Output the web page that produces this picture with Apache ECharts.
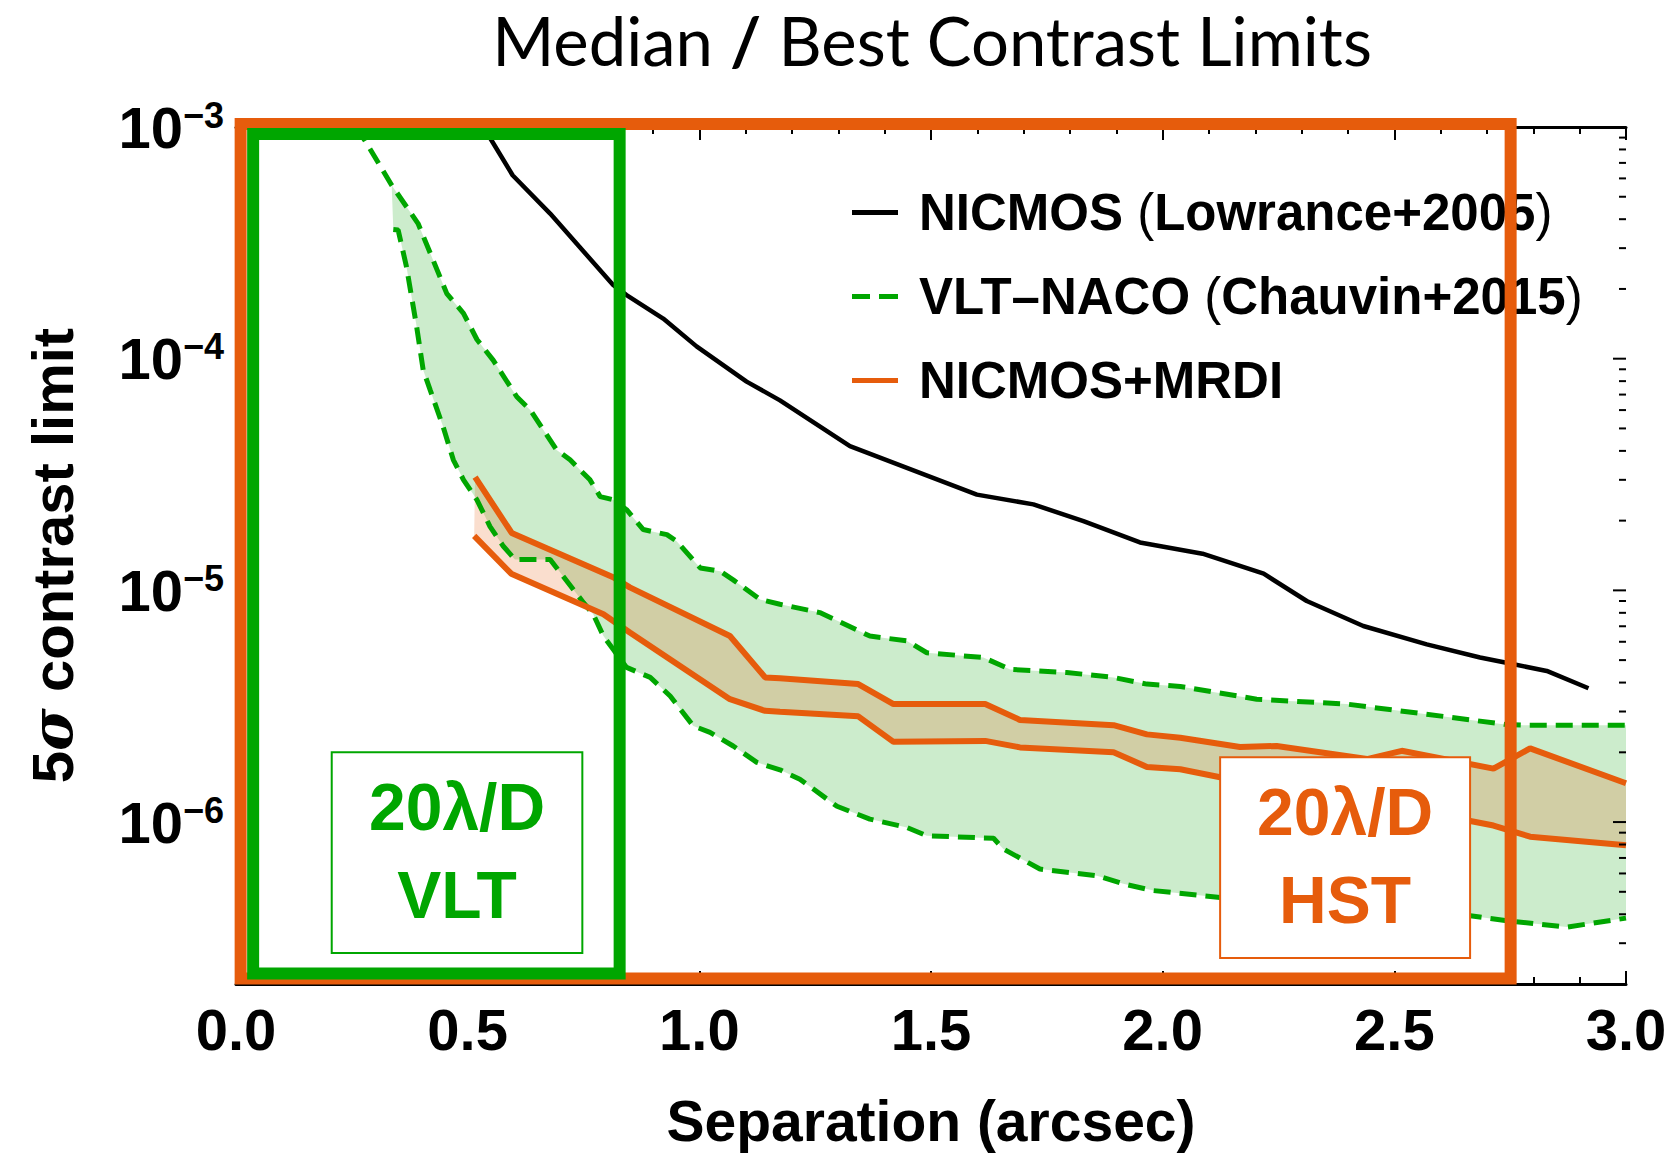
<!DOCTYPE html>
<html>
<head>
<meta charset="utf-8">
<script src="https://cdn.jsdelivr.net/npm/echarts@6/dist/echarts.min.js"></script>
<style>html,body{margin:0;padding:0;background:#fff}#c{width:1674px;height:1154px}</style>
</head>
<body>
<div id="c"></div>
<script>
// ---------------- data ----------------
const seriesNames = ['NICMOS (Lowrance+2005)', 'VLT\u2013NACO (Chauvin+2015)', 'NICMOS+MRDI'];

const nicmosSep = [0.534, 0.597, 0.678, 0.814, 0.843, 0.922, 0.994, 1.102, 1.174, 1.325, 1.599, 1.721, 1.829, 1.951, 2.086, 2.218, 2.311, 2.433, 2.570, 2.685, 2.739, 2.829, 2.919];
const nicmosContrast = [1.00e-3, 6.19e-4, 4.23e-4, 2.08e-4, 1.88e-4, 1.49e-4, 1.13e-4, 7.96e-5, 6.61e-5, 4.19e-5, 2.59e-5, 2.35e-5, 1.99e-5, 1.61e-5, 1.44e-5, 1.18e-5, 9.00e-6, 7.02e-6, 5.85e-6, 5.13e-6, 4.88e-6, 4.49e-6, 3.78e-6];

const vltUpperSep = [0.258, 0.278, 0.336, 0.393, 0.455, 0.491, 0.520, 0.555, 0.606, 0.635, 0.692, 0.721, 0.764, 0.786, 0.814, 0.843, 0.879, 0.930, 0.951, 1.002, 1.045, 1.073, 1.131, 1.174, 1.260, 1.368, 1.448, 1.491, 1.613, 1.671, 1.793, 1.894, 1.966, 2.038, 2.203, 2.397, 2.541, 2.739, 2.779, 3.000];
const vltUpperContrast = [1.00e-3, 8.77e-4, 5.61e-4, 3.83e-4, 1.91e-4, 1.57e-4, 1.21e-4, 9.86e-5, 6.85e-5, 6.01e-5, 4.04e-5, 3.66e-5, 3.00e-5, 2.54e-5, 2.46e-5, 2.23e-5, 1.83e-5, 1.74e-5, 1.63e-5, 1.25e-5, 1.21e-5, 1.11e-5, 9.14e-6, 8.71e-6, 8.02e-6, 6.35e-6, 6.05e-6, 5.38e-6, 5.13e-6, 4.56e-6, 4.42e-6, 4.21e-6, 3.94e-6, 3.85e-6, 3.39e-6, 3.23e-6, 2.97e-6, 2.64e-6, 2.62e-6, 2.62e-6];

const vltLowerSep = [0.3395, 0.350, 0.368, 0.390, 0.404, 0.419, 0.447, 0.469, 0.491, 0.520, 0.548, 0.577, 0.602, 0.678, 0.706, 0.750, 0.771, 0.793, 0.814, 0.843, 0.894, 0.937, 0.987, 1.023, 1.073, 1.124, 1.174, 1.217, 1.297, 1.368, 1.448, 1.491, 1.635, 1.656, 1.735, 1.858, 1.915, 1.980, 2.124, 2.404, 2.664, 2.739, 2.872, 3.000];
const vltLowerContrast = [3.61e-4, 3.59e-4, 2.49e-4, 1.37e-4, 8.93e-5, 7.33e-5, 5.09e-5, 3.66e-5, 3.00e-5, 2.46e-5, 1.89e-5, 1.55e-5, 1.36e-5, 1.36e-5, 1.15e-5, 8.85e-6, 7.89e-6, 6.35e-6, 5.57e-6, 4.65e-6, 4.21e-6, 3.50e-6, 2.60e-6, 2.44e-6, 2.13e-6, 1.81e-6, 1.68e-6, 1.53e-6, 1.17e-6, 1.03e-6, 9.48e-7, 8.73e-7, 8.51e-7, 7.66e-7, 6.27e-7, 5.87e-7, 5.41e-7, 5.06e-7, 4.73e-7, 4.22e-7, 3.94e-7, 3.76e-7, 3.52e-7, 3.85e-7];

const mrdiUpperSep = [0.516, 0.595, 0.814, 0.850, 1.066, 1.142, 1.174, 1.343, 1.419, 1.617, 1.692, 1.894, 1.966, 2.038, 2.167, 2.246, 2.441, 2.516, 2.714, 2.793, 3.000];
const mrdiUpperContrast = [3.08e-5, 1.77e-5, 1.14e-5, 1.03e-5, 6.35e-6, 4.21e-6, 4.18e-6, 3.94e-6, 3.23e-6, 3.23e-6, 2.76e-6, 2.62e-6, 2.39e-6, 2.31e-6, 2.11e-6, 2.13e-6, 1.87e-6, 2.03e-6, 1.70e-6, 2.08e-6, 1.47e-6];

const mrdiLowerSep = [0.514, 0.594, 0.793, 0.850, 1.066, 1.142, 1.174, 1.343, 1.419, 1.617, 1.692, 1.894, 1.966, 2.038, 2.124, 2.664, 2.714, 2.793, 3.000];
const mrdiLowerContrast = [1.72e-5, 1.18e-5, 7.89e-6, 6.58e-6, 3.39e-6, 3.02e-6, 2.99e-6, 2.86e-6, 2.22e-6, 2.24e-6, 2.10e-6, 2.00e-6, 1.73e-6, 1.69e-6, 1.56e-6, 1.01e-6, 9.66e-7, 8.65e-7, 7.94e-7];

const xTicks = [0.0, 0.5, 1.0, 1.5, 2.0, 2.5, 3.0];
const yDecades = [-6, -5, -4, -3];

// annotation regions, in data units: [sepLeft, contrastTop, sepRight, contrastBottom]
const hstRegion = [0.01, 1.03e-3, 2.751, 2.11e-7];
const vltRegion = [0.037, 9.33e-4, 0.828, 2.22e-7];
const vltLabelRegion = [0.2066, 2.0e-6, 0.7475, 2.72e-7];
const hstLabelRegion = [2.124, 1.906e-6, 2.6635, 2.59e-7];
const vltLabelLines = ['20\u03bb/D', 'VLT'];
const hstLabelLines = ['20\u03bb/D', 'HST'];

// ---------------- styling ----------------
const F = "'Liberation Sans', Arial, Helvetica, sans-serif";
const ORANGE = '#E65C0C';
const GREEN = '#00A600';
const X_MIN = 0, X_MAX = 3, Y_MIN = 2e-7, Y_MAX = 1e-3;

const zip = (xs, ys) => xs.map((x, i) => [x, ys[i]]);
const nicmosData = zip(nicmosSep, nicmosContrast);
const vltUpper = zip(vltUpperSep, vltUpperContrast);
const vltLower = zip(vltLowerSep, vltLowerContrast);
const mrdiUpper = zip(mrdiUpperSep, mrdiUpperContrast);
const mrdiLower = zip(mrdiLowerSep, mrdiLowerContrast);

// right-axis log ticks: majors at 10^n, minors at 2..9 x 10^n
const rightTicks = [];
for (let e = -7; e <= -3; e++) {
  for (let m = 1; m <= 9; m++) {
    const v = m * Math.pow(10, e);
    if (v > Y_MIN * 1.001 && v < Y_MAX * 0.999) rightTicks.push([X_MAX, v, m === 1 ? 1 : 0]);
  }
}

function bandRender(upper, lower, fill) {
  return function (params, api) {
    if (params.dataIndex !== 0) return;
    const pts = [];
    upper.forEach(p => pts.push(api.coord(p)));
    for (let i = lower.length - 1; i >= 0; i--) pts.push(api.coord(lower[i]));
    return { type: 'polygon', shape: { points: pts }, style: { fill: fill } };
  };
}

function frameRender(color) {
  return function (params, api) {
    const p0 = api.coord([api.value(0), api.value(1)]);
    const p1 = api.coord([api.value(2), api.value(3)]);
    return {
      type: 'rect',
      shape: { x: p0[0], y: p0[1], width: p1[0] - p0[0], height: p1[1] - p0[1] },
      style: { fill: 'none', stroke: color, lineWidth: 12 }
    };
  };
}

function labelRender(color, lines) {
  return function (params, api) {
    const p0 = api.coord([api.value(0), api.value(1)]);
    const p1 = api.coord([api.value(2), api.value(3)]);
    const cx = (p0[0] + p1[0]) / 2;
    return {
      type: 'group',
      children: [
        { type: 'rect', shape: { x: p0[0], y: p0[1], width: p1[0] - p0[0], height: p1[1] - p0[1] },
          style: { fill: '#fff', stroke: color, lineWidth: 2 } },
        { type: 'text', style: { text: lines[0], x: cx, y: p0[1] + 55, fill: color,
          fontSize: 66, fontWeight: 'bold', fontFamily: F, align: 'center', verticalAlign: 'middle' } },
        { type: 'text', style: { text: lines[1], x: cx, y: p0[1] + 143, fill: color,
          fontSize: 66, fontWeight: 'bold', fontFamily: F, align: 'center', verticalAlign: 'middle' } }
      ]
    };
  };
}

function decadeLabel(v) {
  const lg = Math.log10(v);
  const e = Math.round(lg);
  if (Math.abs(lg - e) > 0.01 || yDecades.indexOf(e) < 0) return '';
  return '{b|10}{s|\u2212' + (-e) + '}';
}

const axisLineStyle = { color: '#000', width: 3 };

const option = {
  animation: false,
  backgroundColor: '#fff',
  grid: { left: 236, right: 48, top: 127, bottom: 169, containLabel: false },
  graphic: [{
    type: 'text', x: 932, y: 40, z: 20,
    style: {
      text: '{a|Median }{b|/}{a| Best Contrast Limits}',
      align: 'center', verticalAlign: 'middle',
      rich: {
        a: { fontSize: 67, fontFamily: "Lato, 'Open Sans', sans-serif", fontWeight: 'normal', fill: '#000' },
        b: { fontSize: 67, fontFamily: "Lato, 'Open Sans', sans-serif", fontWeight: 'bold', fill: '#000' }
      }
    }
  }],
  legend: {
    orient: 'vertical', left: 847, top: 182,
    itemWidth: 46, itemHeight: 5, itemGap: 33,
    selectedMode: false,
    data: [
      { name: seriesNames[0], icon: 'rect' },
      { name: seriesNames[1], icon: 'path://M0,0h18v5h-18zM27,0h19v5h-19z' },
      { name: seriesNames[2], icon: 'rect' }
    ],
    formatter: function (name) {
      const m = name.match(/^(.*?) \((.*)\)$/);
      if (m) return '{t|' + m[1] + ' }{p|(}{t|' + m[2] + '}{p|)}';
      return '{t|' + name + '}';
    },
    textStyle: {
      padding: [0, 0, 0, 16],
      lineHeight: 50,
      rich: {
        t: { fontSize: 51, fontWeight: 'bold', fontFamily: F, color: '#000', lineHeight: 50 },
        p: { fontSize: 51, fontWeight: 'normal', fontFamily: F, color: '#000', lineHeight: 50 }
      }
    }
  },
  xAxis: [{
    type: 'value', min: X_MIN, max: X_MAX, interval: 0.5, position: 'bottom',
    name: 'Separation (arcsec)', nameLocation: 'middle', nameGap: 108,
    nameTextStyle: { fontSize: 57, fontWeight: 'bold', fontFamily: F, color: '#000' },
    axisLine: { show: true, lineStyle: axisLineStyle },
    axisTick: { show: true, inside: true, length: 13, lineStyle: { color: '#000', width: 2 } },
    minorTick: { show: true, splitNumber: 5, length: 7, lineStyle: { color: '#000', width: 2 } },
    splitLine: { show: false },
    axisLabel: {
      margin: 16, fontSize: 58, fontWeight: 'bold', fontFamily: F, color: '#000',
      formatter: v => (xTicks.some(t => Math.abs(t - v) < 1e-6) ? v.toFixed(1) : '')
    }
  }, {
    type: 'value', min: X_MIN, max: X_MAX, interval: 0.5, position: 'top',
    axisLine: { show: true, lineStyle: axisLineStyle },
    axisTick: { show: true, inside: true, length: 13, lineStyle: { color: '#000', width: 2 } },
    minorTick: { show: true, splitNumber: 5, length: 7, lineStyle: { color: '#000', width: 2 } },
    splitLine: { show: false },
    axisLabel: { show: false }
  }],
  yAxis: [{
    type: 'log', logBase: 10, min: Y_MIN, max: Y_MAX, position: 'left',
    name: '{n|5}{i|\u03c3}{n| contrast limit}', nameLocation: 'middle', nameGap: 155,
    nameTextStyle: {
      rich: {
        n: { fontSize: 58, fontWeight: 'bold', fontFamily: F, color: '#000' },
        i: { fontSize: 58, fontWeight: 'bold', fontStyle: 'italic', fontFamily: "'DejaVu Serif', serif", color: '#000' }
      }
    },
    axisLine: { show: false },
    axisTick: { show: false },
    minorTick: { show: false },
    splitLine: { show: false },
    axisLabel: {
      margin: 12, showMinLabel: true, formatter: decadeLabel,
      rich: {
        b: { fontSize: 58, fontWeight: 'bold', fontFamily: F, color: '#000', lineHeight: 60 },
        s: { fontSize: 36, fontWeight: 'bold', fontFamily: F, color: '#000', verticalAlign: 'top', lineHeight: 30 }
      }
    }
  }, {
    type: 'log', logBase: 10, min: Y_MIN, max: Y_MAX, position: 'right',
    axisLine: { show: true, lineStyle: axisLineStyle },
    axisTick: { show: false },
    minorTick: { show: false },
    splitLine: { show: false },
    axisLabel: { show: false }
  }],
  series: [
    { type: 'custom', name: 'vltBand', silent: true, z: 1, data: vltUpper,
      renderItem: bandRender(vltUpper.filter(p => p[0] >= vltLowerSep[0] - 0.01), vltLower, 'rgba(0,160,0,0.2)') },
    { type: 'custom', name: 'mrdiBand', silent: true, z: 1, data: mrdiUpper,
      renderItem: bandRender(mrdiUpper, mrdiLower, 'rgba(232,92,12,0.2)') },
    { type: 'line', name: seriesNames[0], data: nicmosData, symbol: 'none', showSymbol: false, z: 3,
      color: '#000', lineStyle: { color: '#000', width: 4.5 } },
    { type: 'line', name: seriesNames[1], data: vltUpper, symbol: 'none', showSymbol: false, z: 3,
      color: GREEN, lineStyle: { color: GREEN, width: 5, type: [17, 9] } },
    { type: 'line', name: seriesNames[1], data: vltLower, symbol: 'none', showSymbol: false, z: 3,
      color: GREEN, lineStyle: { color: GREEN, width: 5, type: [17, 9] } },
    { type: 'line', name: seriesNames[2], data: mrdiUpper, symbol: 'none', showSymbol: false, z: 4,
      color: ORANGE, lineStyle: { color: ORANGE, width: 6 } },
    { type: 'line', name: seriesNames[2], data: mrdiLower, symbol: 'none', showSymbol: false, z: 4,
      color: ORANGE, lineStyle: { color: ORANGE, width: 6 } },
    { type: 'custom', name: 'rightTicks', silent: true, z: 5, clip: false,
      data: rightTicks,
      renderItem: function (params, api) {
        const pr = api.coord([api.value(0), api.value(1)]);
        const len = api.value(2) ? 13 : 7;
        return { type: 'line', shape: { x1: pr[0] - len, y1: pr[1], x2: pr[0], y2: pr[1] }, style: { stroke: '#000', lineWidth: 2 } };
      } },
    { type: 'custom', name: 'vltLabel', silent: true, z: 8, clip: false, data: [vltLabelRegion],
      encode: { x: [0, 2], y: [1, 3] }, renderItem: labelRender(GREEN, vltLabelLines) },
    { type: 'custom', name: 'hstLabel', silent: true, z: 8, clip: false, data: [hstLabelRegion],
      encode: { x: [0, 2], y: [1, 3] }, renderItem: labelRender(ORANGE, hstLabelLines) },
    { type: 'custom', name: 'hstRegion', silent: true, z: 10, clip: false, data: [hstRegion],
      encode: { x: [0, 2], y: [1, 3] }, renderItem: frameRender(ORANGE) },
    { type: 'custom', name: 'vltRegion', silent: true, z: 11, clip: false, data: [vltRegion],
      encode: { x: [0, 2], y: [1, 3] }, renderItem: frameRender(GREEN) }
  ]
};

const chart = echarts.init(document.getElementById('c'), null, { renderer: 'svg', width: 1674, height: 1154 });
chart.setOption(option);
</script>
</body>
</html>
